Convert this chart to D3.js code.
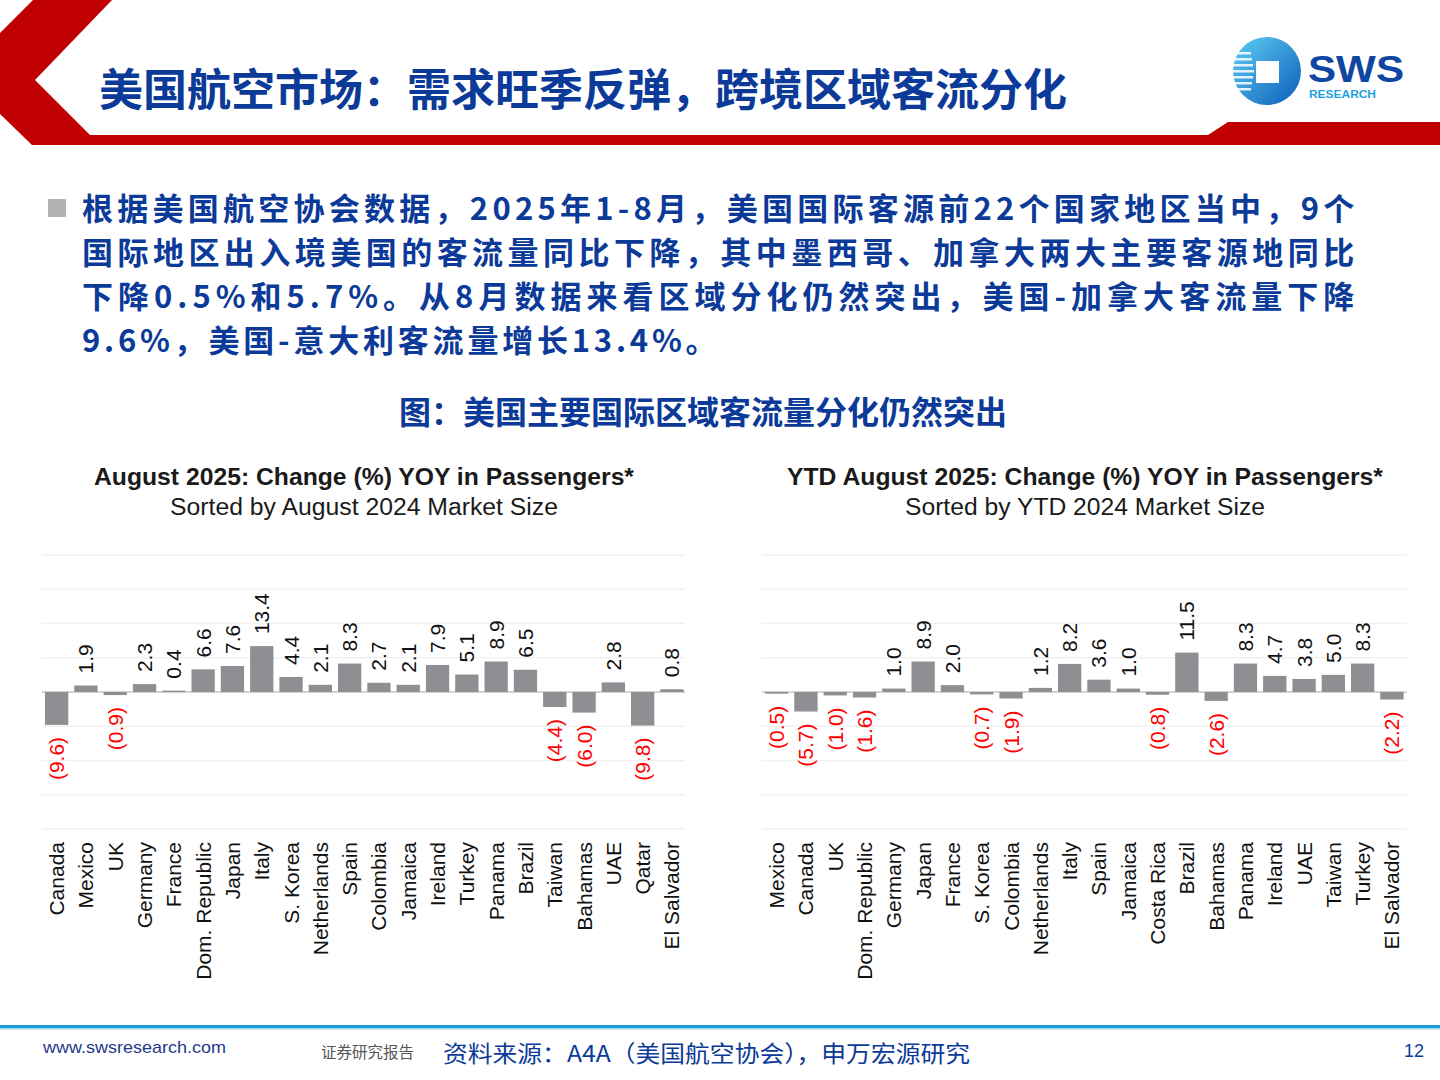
<!DOCTYPE html>
<html>
<head>
<meta charset="utf-8">
<script src="https://cdn.jsdelivr.net/npm/d3@7"></script>
<style>
  body { margin: 0; background: #fff; }
  svg { display: block; }
</style>
</head>
<body>
<div id="chart"></div>
<script>
// august 2025, sorted by aug 2024 market size
var augCats = ["Canada", "Mexico", "UK", "Germany", "France", "Dom. Republic", "Japan", "Italy",
  "S. Korea", "Netherlands", "Spain", "Colombia", "Jamaica", "Ireland", "Turkey", "Panama",
  "Brazil", "Taiwan", "Bahamas", "UAE", "Qatar", "El Salvador"];
var augVals = [-9.6, 1.9, -0.9, 2.3, 0.4, 6.6, 7.6, 13.4, 4.4, 2.1, 8.3, 2.7, 2.1, 7.9, 5.1, 8.9,
  6.5, -4.4, -6.0, 2.8, -9.8, 0.8];

// ytd august 2025, sorted by ytd 2024 market size
var ytdCats = ["Mexico", "Canada", "UK", "Dom. Republic", "Germany", "Japan", "France", "S. Korea",
  "Colombia", "Netherlands", "Italy", "Spain", "Jamaica", "Costa Rica", "Brazil", "Bahamas",
  "Panama", "Ireland", "UAE", "Taiwan", "Turkey", "El Salvador"];
var ytdVals = [-0.5, -5.7, -1.0, -1.6, 1.0, 8.9, 2.0, -0.7, -1.9, 1.2, 8.2, 3.6, 1.0, -0.8, 11.5,
  -2.6, 8.3, 4.7, 3.8, 5.0, 8.3, -2.2];

var gridTicks = [-40, -30, -20, -10, 0, 10, 20, 30, 40];

var pageTitle = "美国航空市场：需求旺季反弹，跨境区域客流分化";
var bulletLines = [
  "根据美国航空协会数据，2025年1-8月，美国国际客源前22个国家地区当中，9个",
  "国际地区出入境美国的客流量同比下降，其中墨西哥、加拿大两大主要客源地同比",
  "下降0.5%和5.7%。从8月数据来看区域分化仍然突出，美国-加拿大客流量下降",
  "9.6%，美国-意大利客流量增长13.4%。"
];
var figCaption = "图：美国主要国际区域客流量分化仍然突出";
var sourceText = "资料来源：A4A（美国航空协会），申万宏源研究";

var blue = "#0b3a98";
var cjk = "'Noto Sans CJK SC', 'Noto Sans', sans-serif";
var latin = "'Liberation Sans', Arial, sans-serif";

var svg = d3.select("#chart").append("svg")
  .attr("width", 1440)
  .attr("height", 1080);

// header red chevron + band
svg.append("path")
  .attr("d", "M33,0 L112,0 L35,80 L90,135 L1208,135 L1228,122 L1440,122 L1440,145 L32,145 L0,114 L0,33 Z")
  .attr("fill", "#c00000");

svg.append("text")
  .attr("x", 99).attr("y", 106)
  .attr("font-family", cjk)
  .attr("font-weight", 700)
  .attr("font-size", 44)
  .attr("fill", blue)
  .text(pageTitle);

// logo
var defs = svg.append("defs");
var lg = defs.append("linearGradient").attr("id", "logoGrad")
  .attr("x1", "0").attr("y1", "0").attr("x2", "1").attr("y2", "1");
lg.append("stop").attr("offset", "0").attr("stop-color", "#5fd0f5");
lg.append("stop").attr("offset", "1").attr("stop-color", "#0b5cb8");

var logo = svg.append("g");
logo.append("circle").attr("cx", 1267).attr("cy", 71).attr("r", 34).attr("fill", "url(#logoGrad)");
d3.range(7).forEach(function(i) {
  logo.append("rect")
    .attr("x", 1232).attr("y", 52 + i * 6)
    .attr("width", 22 - Math.abs(i - 3) * 1).attr("height", 2.5)
    .attr("fill", "#fff").attr("opacity", 0.85);
});
logo.append("rect").attr("x", 1256).attr("y", 61).attr("width", 23).attr("height", 22).attr("fill", "#fff");
logo.append("text")
  .attr("x", 1308).attr("y", 82)
  .attr("font-family", latin).attr("font-weight", 700)
  .attr("font-size", 37).attr("fill", "#0d47a1")
  .attr("textLength", 96).attr("lengthAdjust", "spacingAndGlyphs")
  .text("SWS");
logo.append("text")
  .attr("x", 1309).attr("y", 98)
  .attr("font-family", latin).attr("font-weight", 700)
  .attr("font-size", 10).attr("fill", "#1da1e2")
  .attr("textLength", 67).attr("lengthAdjust", "spacingAndGlyphs")
  .text("RESEARCH");

// bullet
svg.append("rect").attr("x", 48).attr("y", 199).attr("width", 18).attr("height", 18).attr("fill", "#b3b3b3");
bulletLines.forEach(function(line, i) {
  var t = svg.append("text")
    .attr("x", 82).attr("y", 220 + i * 44)
    .attr("font-family", cjk)
    .attr("font-weight", 700)
    .attr("font-size", 31)
    .attr("letter-spacing", 3.8)
    .attr("fill", blue)
    .text(line);
  if (i < bulletLines.length - 1) t.attr("textLength", 1276).attr("lengthAdjust", "spacing");
});

svg.append("text")
  .attr("x", 703).attr("y", 424)
  .attr("text-anchor", "middle")
  .attr("font-family", cjk)
  .attr("font-weight", 700)
  .attr("font-size", 32)
  .attr("fill", blue)
  .text(figCaption);

var y = d3.scaleLinear().domain([-40, 40]).range([829, 555]);

function drawChart(cats, vals, x0, x1, gx0, gx1, cx, title, titleW, subtitle, subW) {
  var g = svg.append("g");
  var x = d3.scaleBand().domain(cats).range([x0, x1]).paddingInner(0.205).paddingOuter(0);

  g.append("text")
    .attr("x", cx).attr("y", 485)
    .attr("text-anchor", "middle")
    .attr("font-family", latin).attr("font-weight", 700)
    .attr("font-size", 23).attr("fill", "#1a1a1a")
    .attr("textLength", titleW).attr("lengthAdjust", "spacingAndGlyphs")
    .text(title);
  g.append("text")
    .attr("x", cx).attr("y", 515)
    .attr("text-anchor", "middle")
    .attr("font-family", latin)
    .attr("font-size", 23).attr("fill", "#1a1a1a")
    .attr("textLength", subW).attr("lengthAdjust", "spacingAndGlyphs")
    .text(subtitle);

  g.selectAll(".grid").data(gridTicks).enter().append("line")
    .attr("x1", gx0).attr("x2", gx1)
    .attr("y1", d => y(d)).attr("y2", d => y(d))
    .attr("stroke", d => d === 0 ? "#d4d4d4" : "#f1f1f1")
    .attr("stroke-width", d => d === 0 ? 2 : 1.5);

  var data = cats.map((c, i) => ({ cat: c, v: vals[i] }));

  g.selectAll(".bar").data(data).enter().append("rect")
    .attr("x", d => x(d.cat))
    .attr("width", x.bandwidth())
    .attr("y", d => y(Math.max(0, d.v)))
    .attr("height", d => Math.max(1, Math.abs(y(d.v) - y(0))))
    .attr("fill", "#8e8f93");

  // value labels, rotated
  g.selectAll(".val").data(data).enter().append("text")
    .attr("transform", function(d) {
      var px = x(d.cat) + x.bandwidth() / 2;
      var py = d.v >= 0 ? y(d.v) - 12 : y(d.v) + 12;
      return "translate(" + px + "," + py + ") rotate(-90)";
    })
    .attr("text-anchor", d => d.v >= 0 ? "start" : "end")
    .attr("dominant-baseline", "central")
    .attr("font-family", latin)
    .attr("font-size", 21)
    .attr("fill", d => d.v >= 0 ? "#111" : "#ff0000")
    .text(d => d.v >= 0 ? d.v.toFixed(1) : "(" + Math.abs(d.v).toFixed(1) + ")");

  // category axis labels
  var xAxis = d3.axisBottom(x).tickSize(0).tickPadding(0);
  var ax = g.append("g").attr("transform", "translate(0,842)").call(xAxis);
  ax.select(".domain").remove();
  ax.selectAll("text")
    .attr("transform", "rotate(-90)")
    .attr("x", 0).attr("y", 0).attr("dy", null)
    .attr("text-anchor", "end")
    .attr("dominant-baseline", "central")
    .attr("font-family", latin)
    .attr("font-size", 21)
    .attr("fill", "#111");
}

drawChart(augCats, augVals, 45, 683.6, 42, 685, 364,
  "August 2025: Change (%) YOY in Passengers*", 540, "Sorted by August 2024 Market Size", 388);
drawChart(ytdCats, ytdVals, 765, 1403.6, 762, 1407, 1085,
  "YTD August 2025: Change (%) YOY in Passengers*", 596, "Sorted by YTD 2024 Market Size", 360);

// footer
svg.append("rect").attr("x", 0).attr("y", 1025).attr("width", 1440).attr("height", 3).attr("fill", "#1a9ad6");
svg.append("rect").attr("x", 0).attr("y", 1028).attr("width", 1440).attr("height", 1.5).attr("fill", "#9fd6f0");
svg.append("text")
  .attr("x", 43).attr("y", 1053)
  .attr("font-family", latin).attr("font-size", 17).attr("fill", "#1f3a8a")
  .attr("textLength", 183).attr("lengthAdjust", "spacingAndGlyphs")
  .text("www.swsresearch.com");
svg.append("text")
  .attr("x", 321).attr("y", 1058)
  .attr("font-family", cjk).attr("font-size", 15.5).attr("fill", "#555")
  .text("证券研究报告");
svg.append("text")
  .attr("x", 443).attr("y", 1062)
  .attr("font-family", cjk).attr("font-size", 23).attr("fill", blue)
  .attr("textLength", 527).attr("lengthAdjust", "spacingAndGlyphs")
  .text(sourceText);
svg.append("text")
  .attr("x", 1424).attr("y", 1057)
  .attr("text-anchor", "end")
  .attr("font-family", latin).attr("font-size", 18).attr("fill", blue)
  .text("12");
</script>
</body>
</html>
